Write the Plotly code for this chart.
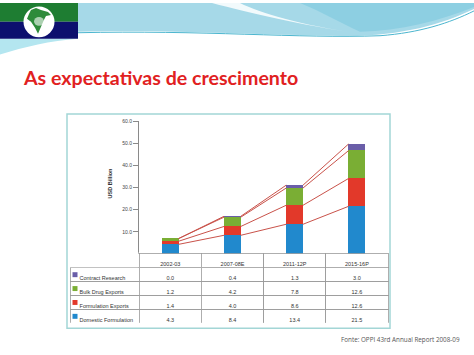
import plotly.graph_objects as go

W, H = 474, 355

# ---------------- data ----------------
periods = ["2002-03", "2007-08E", "2011-12P", "2015-16P"]
domestic_formulation = [4.3, 8.4, 13.4, 21.5]
formulation_exports = [1.4, 4.0, 8.6, 12.6]
bulk_drug_exports = [1.2, 4.2, 7.8, 12.6]
contract_research = [0.0, 0.4, 1.3, 3.0]
series_names = ["Domestic Formulation", "Formulation Exports", "Bulk Drug Exports", "Contract Research"]
series_colors = ["#2189cd", "#e2392a", "#7aae34", "#6a5ea8"]
y_tickvals = [0, 10, 20, 30, 40, 50, 60]
y_ticktext = ["", "10.0", "20.0", "30.0", "40.0", "50.0", "60.0"]
title_text = "As expectativas de crescimento"
source_text = "Fonte: OPPI 43rd Annual Report 2008-09"


def px(x):
    return x / W


def py(y):
    return 1 - y / H


series_values = [domestic_formulation, formulation_exports, bulk_drug_exports, contract_research]
xpos = list(range(len(periods)))
bar_w = 0.27

fig = go.Figure()

for name, vals, col in zip(series_names, series_values, series_colors):
    fig.add_trace(go.Bar(x=xpos, y=vals, name=name, width=bar_w,
                         marker=dict(color=col, line=dict(width=0)),
                         showlegend=False, hoverinfo="y"))

# connecting lines between cumulative tops
cum = [0.0] * len(periods)
lx, ly = [], []
for vals in series_values:
    cum = [c + v for c, v in zip(cum, vals)]
    for i in range(len(periods) - 1):
        lx += [xpos[i] + bar_w / 2, xpos[i + 1] - bar_w / 2, None]
        ly += [cum[i], cum[i + 1], None]
fig.add_trace(go.Scatter(x=lx, y=ly, mode="lines",
                         line=dict(color="#c9524a", width=1),
                         showlegend=False, hoverinfo="skip"))

# table
TABLE_TOP, ROW_H, FIRST_COL_L = 253, 14, 70
rows_order = [3, 2, 1, 0]
first_col = ["\u00a0" + series_names[k].replace(" ", "\u00a0") for k in rows_order]
cols = [first_col]
for j in range(len(periods)):
    cols.append([f"{series_values[k][j]:.1f}" for k in rows_order])

fig.add_trace(go.Table(
    domain=dict(x=[px(FIRST_COL_L), px(388)], y=[py(TABLE_TOP + 5 * ROW_H), py(TABLE_TOP)]),
    columnwidth=[69, 62, 62, 62, 62],
    header=dict(values=[""] + periods, height=ROW_H,
                fill_color="white", line=dict(color="#9a9a9a", width=0.8),
                font=dict(size=5.5, color="#333", family="Liberation Sans"),
                align="center"),
    cells=dict(values=cols, height=ROW_H,
               fill_color="white", line=dict(color="#9a9a9a", width=0.8),
               font=dict(size=5.5, color="#333", family="Liberation Sans"),
               align=["left", "center", "center", "center", "center"]),
))

shapes = []

# blank out the borders of the empty top-left header cell
shapes.append(dict(type="rect", xref="paper", yref="paper",
                   x0=px(FIRST_COL_L - 1.5), x1=px(138.4), y0=py(TABLE_TOP + ROW_H - 0.6), y1=py(TABLE_TOP - 1.5),
                   fillcolor="white", line=dict(width=0)))

# legend swatches in the table's first column
for r, k in enumerate(rows_order):
    cy = TABLE_TOP + ROW_H * (r + 1.5)
    shapes.append(dict(type="rect", xref="paper", yref="paper",
                       x0=px(FIRST_COL_L + 2.5), x1=px(FIRST_COL_L + 7.5), y0=py(cy + 2.5), y1=py(cy - 2.5),
                       fillcolor=series_colors[k], line=dict(width=0)))


def path_from(points, closed=True):
    s = ""
    for cmd, pts in points:
        if cmd == "L":
            for a, b in pts:
                s += f"L {px(a):.5f},{py(b):.5f} "
        else:
            s += cmd + " " + " ".join(f"{px(a):.5f},{py(b):.5f}" for a, b in pts) + " "
    if closed:
        s += "Z"
    return s


# header decoration
shapes.append(dict(type="path", xref="paper", yref="paper", layer="below",
                   path=path_from([("M", [(78, 0)]), ("L", [(474, 0), (474, 6)]),
                                   ("C", [(440, 22), (400, 34), (340, 33)]),
                                   ("C", [(250, 32), (150, 26), (78, 29)])]),
                   fillcolor="#a6d9e8", line=dict(width=0)))
shapes.append(dict(type="path", xref="paper", yref="paper", layer="below",
                   path=path_from([("M", [(300, 0)]), ("L", [(474, 0), (474, 4)]),
                                   ("C", [(440, 18), (400, 28), (360, 29)]),
                                   ("C", [(340, 20), (320, 8), (300, 0)])]),
                   fillcolor="#8dcfe2", line=dict(width=0)))
shapes.append(dict(type="path", xref="paper", yref="paper", layer="below",
                   path=path_from([("M", [(212, 0)]), ("C", [(250, 10), (300, 22), (360, 31)]),
                                   ("C", [(300, 22), (260, 10), (240, 0)])]),
                   fillcolor="white", opacity=0.85, line=dict(width=0)))
shapes.append(dict(type="path", xref="paper", yref="paper", layer="below",
                   path=path_from([("M", [(78, 30)]), ("C", [(200, 27), (300, 36), (380, 33)]),
                                   ("C", [(420, 30), (450, 20), (474, 8)])], closed=False),
                   line=dict(color="#4cb6cf", width=1)))
shapes.append(dict(type="path", xref="paper", yref="paper", layer="below",
                   path=path_from([("M", [(0, 36)]), ("L", [(78, 36)]),
                                   ("C", [(50, 38), (25, 44), (0, 52)])]),
                   fillcolor="#b4e6f0", line=dict(width=0)))
# logo
shapes.append(dict(type="rect", xref="paper", yref="paper", x0=px(0), x1=px(78), y0=py(19), y1=py(0),
                   fillcolor="#1e7d32", line=dict(width=0)))
shapes.append(dict(type="rect", xref="paper", yref="paper", x0=px(0), x1=px(78), y0=py(36), y1=py(19),
                   fillcolor="#0c0f6e", line=dict(width=0)))
shapes.append(dict(type="circle", xref="paper", yref="paper", x0=px(23.5), x1=px(54.5), y0=py(34.5), y1=py(3.5),
                   fillcolor="white", line=dict(width=0)))
shapes.append(dict(type="path", xref="paper", yref="paper",
                   path=path_from([("M", [(31, 7)]),
                                   ("L", [(36, 5), (41, 7), (48, 9), (51, 12), (46, 13), (44, 17),
                                          (41, 24), (38, 31), (35, 25), (31, 19), (27, 16), (29, 11)])]),
                   fillcolor="#2e8b3a", line=dict(width=0)))
shapes.append(dict(type="circle", xref="paper", yref="paper", x0=px(34), x1=px(44), y0=py(23), y1=py(14),
                   fillcolor="rgba(255,255,255,0.6)", line=dict(width=0)))
# chart frame
shapes.append(dict(type="rect", xref="paper", yref="paper", layer="below",
                   x0=px(67), x1=px(390), y0=py(328), y1=py(112),
                   fillcolor="white", line=dict(color="#a3d6d6", width=1.5)))

annotations = [
    dict(text=f"<b>{title_text}</b>", x=px(21), y=py(75), xref="paper", yref="paper",
         xanchor="left", yanchor="middle", showarrow=False,
         font=dict(family="Lato", size=19.6, color="#e1211f")),
    dict(text="<b>USD Billion</b>", x=px(110), y=py(182), xref="paper", yref="paper",
         xanchor="center", yanchor="middle", showarrow=False, textangle=-90,
         font=dict(family="Liberation Sans", size=5.5, color="#333")),
    dict(text=source_text, x=px(462), y=py(339), xref="paper", yref="paper",
         xanchor="right", yanchor="middle", showarrow=False,
         font=dict(family="Open Sans", size=6.3, color="#555")),
]

fig.update_layout(
    width=W, height=H, margin=dict(l=0, r=0, t=0, b=0),
    paper_bgcolor="white", plot_bgcolor="rgba(0,0,0,0)",
    barmode="stack", bargap=0,
    shapes=shapes, annotations=annotations,
    xaxis=dict(domain=[px(139), px(388)], range=[-0.5, 3.5], showticklabels=False,
               showgrid=False, zeroline=False, showline=False, fixedrange=True),
    yaxis=dict(domain=[py(253), py(119.3)], range=[0, 60], tickvals=y_tickvals, ticktext=y_ticktext,
               showgrid=False, zeroline=False, showline=True, linecolor="#8a8a8a", linewidth=1,
               ticks="outside", ticklen=5, tickcolor="#8a8a8a",
               tickfont=dict(size=5, color="#444", family="Liberation Sans"), fixedrange=True),
)

fig.write_html("out.html", config={"displayModeBar": False},
               post_script="document.body.style.margin='0';document.body.style.overflow='hidden';")
